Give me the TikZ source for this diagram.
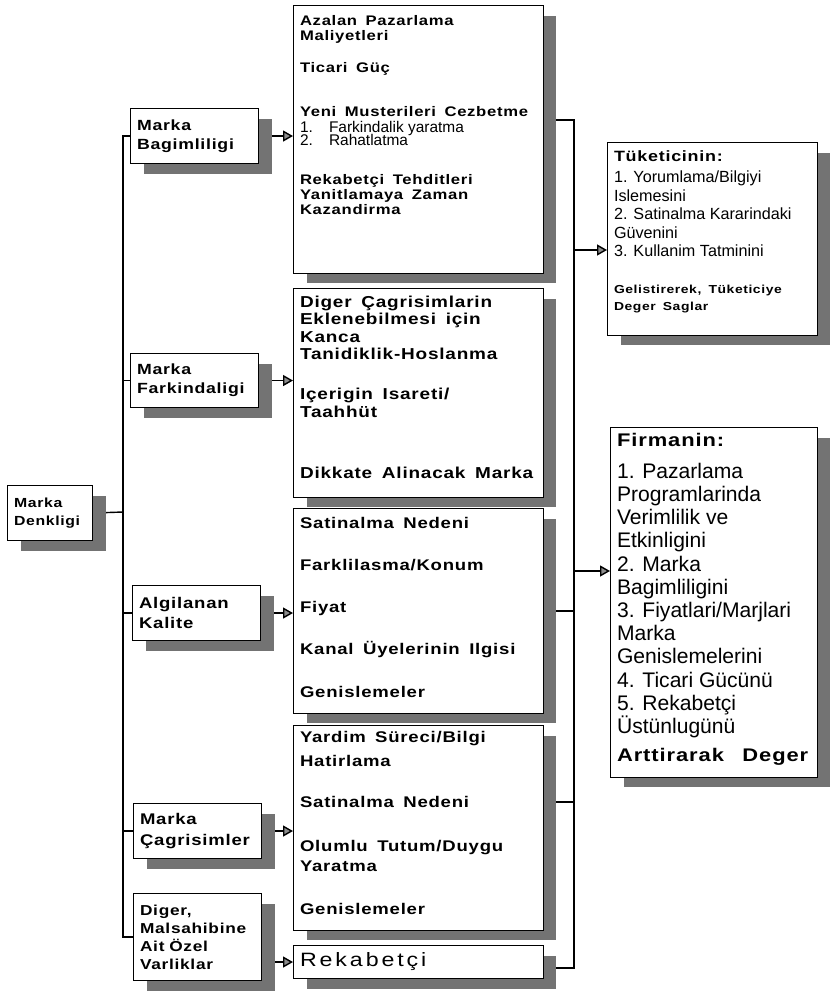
\documentclass[tikz,border=0pt]{standalone}
\usepackage{fontspec}
\setmainfont{Liberation Sans}
\newfontfamily\wide[FakeStretch=1.2, LetterSpace=5, WordSpace=1.6]{Liberation Sans}
\newfontfamily\wider[FakeStretch=1.2, LetterSpace=15]{Liberation Sans}
\usetikzlibrary{arrows.meta,shadows}

\pgfdeclarelayer{back}
\pgfsetlayers{back,main}

% fixed size text block: height, width, top offset, lines
\newcommand{\cell}[4]{\parbox[t][#1][t]{#2}{\lineskiplimit=-1cm\raggedright\vspace*{#3}#4}}

\tikzset{
  frame/.style={draw, line width=0.6pt, fill=white, anchor=north west,
    inner xsep=0.13cm, inner ysep=0pt,
    drop shadow={shadow xshift=0.26cm, shadow yshift=-0.2cm, fill=black!55, opacity=1}},
  kindbox/.style={frame, text width=2.3cm, minimum height=#1, align=left,
    font=\wide\bfseries\fontsize{8.4}{10.8}\selectfont},
  wire/.style={line width=0.8pt},
  feed/.style={wire, -{Triangle[length=0.2cm, width=0.22cm, fill=black!45]}}
}

\begin{document}
\begin{tikzpicture}[x=0.02cm, y=-0.02cm]
  \useasboundingbox (0,0) rectangle (831,992);

  % brand equity and its five assets
  \node[kindbox=1.1cm, text width=1.44cm, font=\wide\bfseries\fontsize{7.5}{10.5}\selectfont] (denk) at (7,485) {Marka\\Denkligi};
  \node[kindbox=1.1cm] (bag) at (130,108) {Marka\\Bagimliligi};
  \node[kindbox=1.08cm] (fark) at (130,353) {Marka\\Farkindaligi};
  \node[kindbox=1.1cm, font=\wide\bfseries\fontsize{8.8}{11.5}\selectfont] (alg) at (132,585) {Algilanan\\Kalite};
  \node[kindbox=1.1cm, font=\wide\bfseries\fontsize{8.8}{11.8}\selectfont] (cag) at (133,803) {Marka\\Çagrisimler};
  \node[kindbox=1.74cm, font=\wide\bfseries\fontsize{8.2}{10.2}\selectfont] (dig) at (133,893) {Diger,\\Malsahibine\\Ait Özel\\Varliklar};

  % benefits
  \node[frame] (m1) at (293,5) {\cell{5.36cm}{4.74cm}{5.4pt}{%
    {\wide\bfseries\fontsize{7.9}{8.5}\selectfont
     Azalan Pazarlama\\ Maliyetleri\\[10.2pt] Ticari Güç\\[16.4pt] Yeni Musterileri Cezbetme\par}
    \vspace{1pt}
    {\fontsize{8.8}{7.8}\selectfont
     \makebox[0.58cm][l]{1.}Farkindalik yaratma\\ \makebox[0.58cm][l]{2.}Rahatlatma\par}
    \vspace{13.8pt}
    {\wide\bfseries\fontsize{7.9}{8.5}\selectfont
     Rekabetçi Tehditleri\\ Yanitlamaya Zaman\\ Kazandirma\par}}};
  \node[frame] (m2) at (293,288) {\cell{4.18cm}{4.74cm}{4.1pt}{%
    {\wide\bfseries\fontsize{9}{10}\selectfont
     Diger Çagrisimlarin\\ Eklenebilmesi için\\ Kanca\\ Tanidiklik-Hoslanma\\[12.7pt]
     Içerigin Isareti/\\ Taahhüt\\[25pt] Dikkate Alinacak Marka\par}}};
  \node[frame] (m3) at (293,508) {\cell{4.1cm}{4.74cm}{4.9pt}{%
    {\wide\bfseries\fontsize{8.8}{24}\selectfont
     Satinalma Nedeni\\ Farklilasma/Konum\\ Fiyat\\ Kanal Üyelerinin Ilgisi\\ Genislemeler\par}}};
  \node[frame] (m4) at (293,725) {\cell{4.1cm}{4.74cm}{3.5pt}{%
    {\wide\bfseries\fontsize{8.8}{11.3}\selectfont
     Yardim Süreci/Bilgi\\[2.3pt] Hatirlama\\[11.9pt] Satinalma Nedeni\\[13.7pt]
     Olumlu Tutum/Duygu\\ Yaratma\\[13.1pt] Genislemeler\par}}};
  \node[frame, text width=4.74cm, minimum height=0.66cm, align=left,
    font=\wider\fontsize{11}{13}\selectfont] (m5) at (293,945) {Rekabetçi};

  % value for customer and firm
  \node[frame] (tk) at (607,142) {\cell{3.86cm}{3.94cm}{4.8pt}{%
    {\wide\bfseries\fontsize{8.5}{10}\selectfont Tüketicinin:\par}
    \vspace{1.4pt}
    {\fontsize{9.2}{10.5}\selectfont
     1. Yorumlama/Bilgiyi\\ Islemesini\\ 2. Satinalma Kararindaki\\ Güvenini\\ 3. Kullanim Tatminini\par}
    \vspace{11.4pt}
    {\wide\bfseries\fontsize{6.6}{9.6}\selectfont Gelistirerek, Tüketiciye\\ Deger Saglar\par}}};
  \node[frame] (fi) at (610,427) {\cell{7cm}{3.88cm}{3.5pt}{%
    {\wide\bfseries\fontsize{10.4}{12}\selectfont Firmanin:\par}
    \vspace{4.7pt}
    {\fontsize{12}{13.2}\selectfont
     1. Pazarlama\\ Programlarinda\\ Verimlilik ve\\ Etkinligini\\ 2. Marka\\ Bagimliligini\\
     3. Fiyatlari/Marjlari\\ Marka\\ Genislemelerini\\ 4. Ticari Gücünü\\ 5. Rekabetçi\\ Üstünlugünü\par}
    \vspace{3.2pt}
    {\wide\bfseries\fontsize{10.4}{13}\selectfont \mbox{Arttirarak\hspace{0.4em} Deger}\par}}};

  \begin{pgfonlayer}{back}
    % left bus
    \coordinate (lbus) at (123,512);
    \draw[wire] (denk.east) -- (lbus);
    \draw[wire] (bag.west) -| (lbus) |- (dig.west);
    \foreach \k in {fark,alg,cag}
      \draw[wire] (lbus |- \k.west) -- (\k.west);
    % assets to benefits
    \draw[feed] (bag.east) -- (bag.east -| m1.west);
    \draw[feed] (fark.east) -- (fark.east -| m2.west);
    \draw[feed] (alg.east) -- (alg.east -| m3.west);
    \draw[feed] (cag.east) -- (cag.east -| m4.west);
    \draw[feed] (m5.west -| dig.east) -- (m5.west);
    % right bus
    \coordinate (r1) at (574,120);
    \coordinate (r4) at (574,802);
    \coordinate (r5) at (574,968);
    \draw[wire] (r1 -| m1.east) -- (r1) -- (r5) -- (r5 -| m5.east);
    \draw[wire] (m3.east) -- (m3.east -| r1);
    \draw[wire] (r4 -| m4.east) -- (r4);
    \coordinate (a1) at (574,250);
    \coordinate (a2) at (574,571);
    \draw[feed] (a1) -- (a1 -| tk.west);
    \draw[feed] (a2) -- (a2 -| fi.west);
  \end{pgfonlayer}
\end{tikzpicture}
\end{document}
